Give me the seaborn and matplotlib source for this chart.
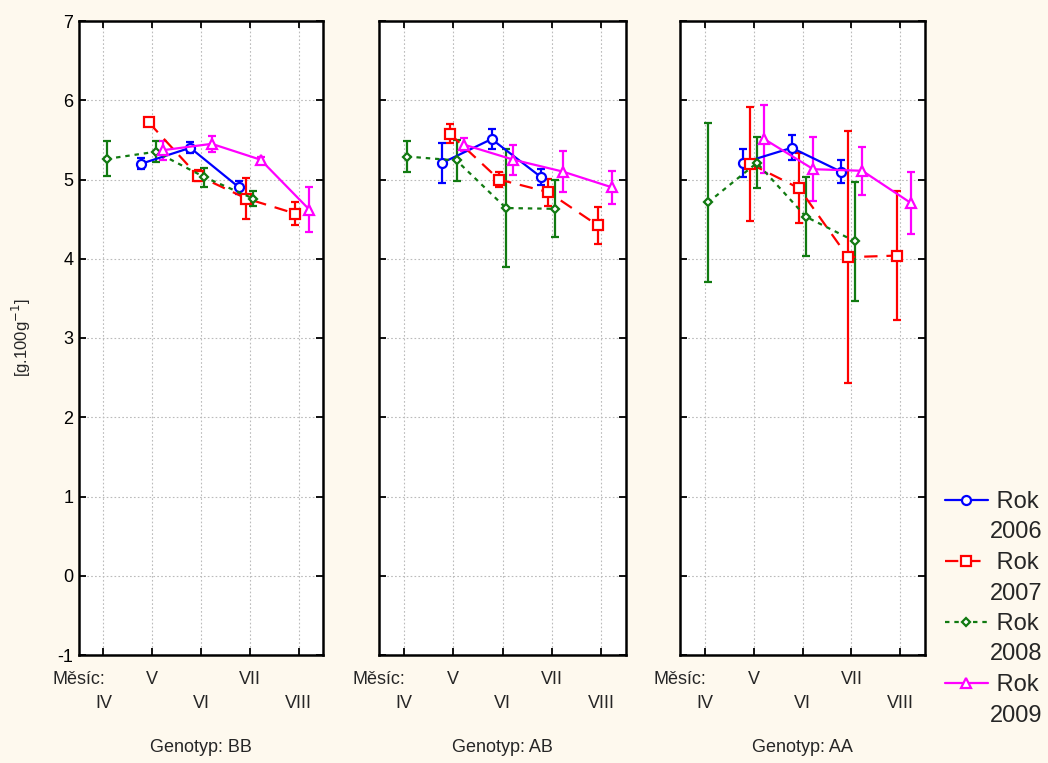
import numpy as np
import pandas as pd
import matplotlib
matplotlib.use("Agg")
import matplotlib.pyplot as plt
import matplotlib.transforms as mtransforms
from matplotlib.lines import Line2D
import seaborn as sns

# ---------------- data ----------------
months = ["IV", "V", "VI", "VII", "VIII"]
genotypes = ["BB", "AB", "AA"]
years = ["2006", "2007", "2008", "2009"]

# month index (1..5) for each year's points
x_2006 = [2, 3, 4]
x_2007 = [2, 3, 4, 5]
x_2008 = [1, 2, 3, 4]
x_2009 = [2, 3, 4, 5]

# means per genotype
bb_2006 = [5.20, 5.40, 4.90]
bb_2007 = [5.72, 5.05, 4.76, 4.57]
bb_2008 = [5.26, 5.35, 5.03, 4.76]
bb_2009 = [5.37, 5.45, 5.25, 4.62]
ab_2006 = [5.21, 5.51, 5.03]
ab_2007 = [5.58, 5.00, 4.84, 4.42]
ab_2008 = [5.29, 5.24, 4.64, 4.63]
ab_2009 = [5.44, 5.25, 5.10, 4.90]
aa_2006 = [5.21, 5.40, 5.10]
aa_2007 = [5.20, 4.89, 4.02, 4.04]
aa_2008 = [4.71, 5.21, 4.53, 4.22]
aa_2009 = [5.51, 5.13, 5.11, 4.70]

# error half-widths
bb_2006_err = [0.07, 0.07, 0.08]
bb_2007_err = [0.04, 0.07, 0.26, 0.15]
bb_2008_err = [0.22, 0.13, 0.12, 0.09]
bb_2009_err = [0.12, 0.10, 0.04, 0.28]
ab_2006_err = [0.25, 0.13, 0.10]
ab_2007_err = [0.12, 0.10, 0.17, 0.23]
ab_2008_err = [0.20, 0.26, 0.75, 0.36]
ab_2009_err = [0.08, 0.19, 0.26, 0.21]
aa_2006_err = [0.18, 0.16, 0.15]
aa_2007_err = [0.72, 0.44, 1.59, 0.81]
aa_2008_err = [1.00, 0.32, 0.50, 0.75]
aa_2009_err = [0.43, 0.40, 0.30, 0.39]

yticks = [-1, 0, 1, 2, 3, 4, 5, 6, 7]

# ---------------- build table ----------------
xs = {"2006": x_2006, "2007": x_2007, "2008": x_2008, "2009": x_2009}
means = {
    "BB": {"2006": bb_2006, "2007": bb_2007, "2008": bb_2008, "2009": bb_2009},
    "AB": {"2006": ab_2006, "2007": ab_2007, "2008": ab_2008, "2009": ab_2009},
    "AA": {"2006": aa_2006, "2007": aa_2007, "2008": aa_2008, "2009": aa_2009},
}
errs = {
    "BB": {"2006": bb_2006_err, "2007": bb_2007_err, "2008": bb_2008_err, "2009": bb_2009_err},
    "AB": {"2006": ab_2006_err, "2007": ab_2007_err, "2008": ab_2008_err, "2009": ab_2009_err},
    "AA": {"2006": aa_2006_err, "2007": aa_2007_err, "2008": aa_2008_err, "2009": aa_2009_err},
}
rows = []
for g in genotypes:
    for y in years:
        for m, v, e in zip(xs[y], means[g][y], errs[g][y]):
            rows.append({"genotype": g, "year": y, "month": m, "value": v, "err": e})
df = pd.DataFrame(rows)

# ---------------- styles ----------------
colors = {"2006": "#0000FF", "2007": "#FF0000", "2008": "#117A11", "2009": "#FF00FF"}
markers = {"2006": "o", "2007": "s", "2008": "D", "2009": "^"}
msizes = {"2006": 6.5, "2007": 6.5, "2008": 4.5, "2009": 7}
lstyles = {"2006": "-", "2007": (0, (6, 4)), "2008": (0, (2, 2.2)), "2009": "-"}
offsets = {"2006": -0.22, "2007": -0.07, "2008": 0.07, "2009": 0.22}

sns.set_theme(style="white")
plt.rcParams["font.family"] = ["Liberation Sans", "DejaVu Sans"]
bg = "#FEF9EE"

fig = plt.figure(figsize=(10.48, 7.63), dpi=100, facecolor=bg)
W, H = 1048, 763
lefts = [79, 379, 680]
widths = [244, 247, 245]
top_px, bot_px = 21, 655
fs = 13

axes = []
for i, g in enumerate(genotypes):
    ax = fig.add_axes([lefts[i] / W, 1 - bot_px / H, widths[i] / W, (bot_px - top_px) / H])
    axes.append(ax)
    ax.set_facecolor("white")
    sub = df[df["genotype"] == g].copy()
    sub["xpos"] = sub["month"] + sub["year"].map(offsets)
    for y in years:
        s = sub[sub["year"] == y]
        ax.errorbar(s["xpos"], s["value"], yerr=s["err"], fmt="none",
                    ecolor=colors[y], elinewidth=1.6, capsize=3.2, capthick=1.6, zorder=3)
        sns.lineplot(data=s, x="xpos", y="value", ax=ax, color=colors[y],
                     linestyle=lstyles[y], linewidth=1.6, marker=markers[y],
                     markersize=msizes[y], markerfacecolor="white",
                     markeredgecolor=colors[y], markeredgewidth=1.6,
                     sort=False, errorbar=None, legend=False, zorder=4)
    ax.set_xlim(0.5, 5.5)
    ax.set_ylim(-1, 7)
    ax.set_xticks([1, 2, 3, 4, 5])
    ax.set_xticklabels([])
    ax.set_yticks(yticks)
    ax.set_xlabel("")
    if i == 0:
        ax.set_yticklabels([str(t) for t in yticks], fontsize=fs)
        ax.set_ylabel("[g.100g$^{-1}$]", fontsize=12, labelpad=18)
    else:
        ax.set_yticklabels([])
        ax.set_ylabel("")
    ax.grid(True, color="#BBBBBB", linestyle=(0, (1.5, 2)), linewidth=0.8)
    ax.tick_params(axis="both", which="both", direction="in", length=5, width=1.3,
                   top=True, right=True, bottom=True, left=True, colors="black",
                   labelcolor="black", pad=4)
    for sp in ax.spines.values():
        sp.set_color("black")
        sp.set_linewidth(1.8)
    trans = mtransforms.blended_transform_factory(ax.transData, ax.transAxes)
    ax.text(0.5, -24 / 634, "Měsíc:", transform=trans, ha="center", va="center", fontsize=fs)
    for k, mlab in enumerate(months):
        yy = -24 / 634 if k % 2 == 1 else -48 / 634
        ax.text(k + 1, yy, mlab, transform=trans, ha="center", va="center", fontsize=fs)
    ax.text(0.5, -92 / 634, f"Genotyp: {g}", transform=ax.transAxes,
            ha="center", va="center", fontsize=fs)

# legend: handle on the "Rok" row, year on the following row
handles, labels = [], []
for y in years:
    handles.append(Line2D([0], [0], color=colors[y], linestyle=lstyles[y], linewidth=1.6,
                          marker=markers[y], markersize=msizes[y], markerfacecolor="white",
                          markeredgecolor=colors[y], markeredgewidth=1.6))
    labels.append(" Rok")
    handles.append(Line2D([0], [0], color="none", linestyle="none"))
    labels.append(y)
leg = fig.legend(handles, labels, loc="upper left",
                 bbox_to_anchor=(945 / W, 1 - 491 / H), frameon=False,
                 fontsize=17, handlelength=1.8, handletextpad=0.12, labelspacing=0.36,
                 borderaxespad=0, borderpad=0)

fig.savefig("out.png", dpi=100, facecolor=bg)
